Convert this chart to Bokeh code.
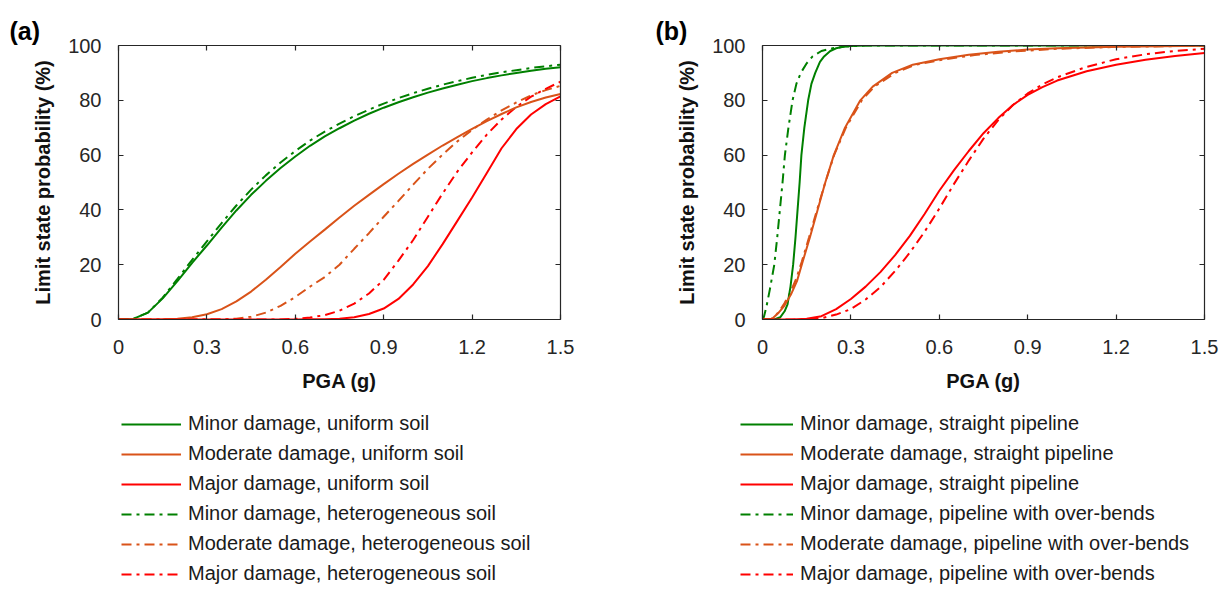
from bokeh.plotting import figure
from bokeh.models import LinearAxis, Legend, LegendItem, FixedTicker, Range1d
from bokeh.layouts import row, column
from bokeh.embed import file_html
from bokeh.resources import INLINE

# ---------------- data ----------------
x_ticks = [0, 0.3, 0.6, 0.9, 1.2, 1.5]
x_tick_labels = ["0", "0.3", "0.6", "0.9", "1.2", "1.5"]
y_ticks = [0, 20, 40, 60, 80, 100]
y_tick_labels = ["0", "20", "40", "60", "80", "100"]

# Panel (a): soil conditions
pga_a = [0, 0.05, 0.1, 0.15, 0.2, 0.25, 0.3, 0.35, 0.4, 0.45, 0.5, 0.55, 0.6, 0.65, 0.7, 0.75,
         0.8, 0.85, 0.9, 0.95, 1.0, 1.05, 1.1, 1.15, 1.2, 1.25, 1.3, 1.35, 1.4, 1.45, 1.5]
a_minor_uniform = [0, 0.2, 2.5, 7.7, 14, 20.7, 27, 33.5, 39.8, 45.5, 50.6, 55.3, 59.5, 63.4, 66.8, 69.8,
                   72.6, 75.1, 77.3, 79.3, 81.1, 82.8, 84.3, 85.7, 87, 88.1, 89.1, 90, 90.8, 91.5, 92.1]
a_moderate_uniform = [0, 0, 0, 0.1, 0.3, 0.8, 1.9, 3.8, 6.6, 10.2, 14.5, 19.2, 24, 28.5, 32.8, 37.2,
                      41.5, 45.5, 49.4, 53.2, 56.8, 60.2, 63.5, 66.6, 69.6, 72.4, 75, 77.4, 79.4, 81, 82.3]
a_major_uniform = [0, 0, 0, 0, 0, 0, 0, 0, 0, 0, 0, 0, 0, 0.05, 0.1, 0.3,
                   0.8, 2, 4, 7.5, 12.8, 19.5, 27.5, 36, 44.5, 53.5, 62.5, 69.5, 74.8, 78.6, 81.4]
a_minor_hetero = [0, 0.2, 2.5, 8, 14.8, 21.8, 28.5, 35.2, 41.6, 47.4, 52.6, 57.3, 61.5, 65.3, 68.6, 71.5,
                  74.2, 76.6, 78.8, 80.8, 82.6, 84.2, 85.7, 87, 88.2, 89.3, 90.2, 91, 91.8, 92.4, 93]
a_moderate_hetero = [0, 0, 0, 0, 0, 0, 0, 0, 0.3, 1, 2.5, 5, 8.2, 12, 15.5, 20,
                     25.8, 31.5, 37.5, 43.3, 49.2, 55, 60.2, 65, 69.2, 73, 76.3, 79.2, 81.8, 83.7, 85.3]
a_major_hetero = [0, 0, 0, 0, 0, 0, 0, 0, 0, 0, 0, 0, 0.25, 0.7, 1.6, 3.2,
                  5.8, 9.5, 14.5, 21.5, 29, 37.5, 46, 54, 61, 67.5, 73, 77.6, 81.3, 84.2, 86.8]

# Panel (b): pipeline geometry
b_minor_straight_x = [0, 0.04, 0.06, 0.075, 0.085, 0.095, 0.104, 0.112, 0.119, 0.126, 0.132, 0.142,
                      0.155, 0.166, 0.179, 0.195, 0.209, 0.23, 0.25, 0.28, 0.35, 1.5]
b_minor_straight = [0, 0, 0.8, 3, 5.5, 12, 20, 30, 40, 50, 60, 70,
                    80, 86, 90, 94, 96, 98, 99, 99.7, 100, 100]
b_moderate_straight_x = [0, 0.03, 0.04, 0.055, 0.074, 0.096, 0.117, 0.136, 0.161, 0.187, 0.213, 0.242,
                         0.28, 0.332, 0.374, 0.44, 0.51, 0.6, 0.7, 0.8, 0.9, 1.0, 1.2, 1.5]
b_moderate_straight = [0, 0, 1, 2.5, 5, 9, 14, 21, 30, 40, 50, 60,
                       70, 80, 85, 90, 93, 95, 96.6, 97.7, 98.5, 99, 99.5, 99.9]
b_major_straight_x = [0, 0.1, 0.15, 0.2, 0.25, 0.3, 0.35, 0.4, 0.45, 0.5, 0.55, 0.6, 0.65, 0.7,
                      0.75, 0.8, 0.85, 0.9, 0.95, 1.0, 1.1, 1.2, 1.3, 1.4, 1.5]
b_major_straight = [0, 0, 0.3, 1.2, 3.8, 7.5, 12, 17.3, 23.5, 30.5, 38.5, 47, 54.5, 61.5,
                    68, 73.5, 78.3, 82, 84.8, 87.2, 90.6, 93, 94.8, 96.2, 97.3]
b_minor_bends_x = [0, 0.005, 0.014, 0.025, 0.04, 0.05, 0.059, 0.068, 0.076, 0.088, 0.102, 0.115,
                   0.13, 0.15, 0.17, 0.2, 0.238, 0.28, 0.35, 1.5]
b_minor_bends = [0, 1, 5, 11, 20, 30, 40, 50, 60, 70, 80, 86,
                 90, 93.5, 96, 98, 99, 99.6, 100, 100]
b_moderate_bends_x = [0, 0.03, 0.045, 0.06, 0.075, 0.095, 0.115, 0.133, 0.158, 0.185, 0.213, 0.243,
                      0.283, 0.337, 0.38, 0.45, 0.52, 0.62, 0.72, 0.85, 1.0, 1.2, 1.5]
b_moderate_bends = [0, 0.3, 1.5, 3.5, 6, 10, 15, 21, 30, 40, 50, 60,
                    70, 80, 85, 90, 93, 95, 96.5, 97.8, 98.8, 99.5, 99.9]
b_major_bends_x = [0, 0.15, 0.2, 0.25, 0.3, 0.35, 0.4, 0.45, 0.5, 0.55, 0.6, 0.65, 0.7, 0.75,
                   0.8, 0.85, 0.9, 0.95, 1.0, 1.1, 1.2, 1.3, 1.4, 1.5]
b_major_bends = [0, 0, 0.5, 1.8, 3.8, 7.3, 11.8, 17.7, 24.4, 32, 40.5, 49.5, 58, 66,
                 72.8, 78.3, 82.5, 85.8, 88.4, 92.2, 95, 96.8, 98, 98.8]

labels_a = ["Minor damage, uniform soil", "Moderate damage, uniform soil", "Major damage, uniform soil",
            "Minor damage, heterogeneous soil", "Moderate damage, heterogeneous soil",
            "Major damage, heterogeneous soil"]
labels_b = ["Minor damage, straight pipeline", "Moderate damage, straight pipeline",
            "Major damage, straight pipeline", "Minor damage, pipeline with over-bends",
            "Moderate damage, pipeline with over-bends", "Major damage, pipeline with over-bends"]

GREEN, ORANGE, RED = "#008000", "#D95319", "#FF0000"
FONT = "Liberation Sans"
AX = "#262626"
DASHDOT = "10 5 3 5"
COLORS = [GREEN, ORANGE, RED, GREEN, ORANGE, RED]
DASHES = ["solid", "solid", "solid", DASHDOT, DASHDOT, DASHDOT]

PLOT_H = 394      # plot figure height
LEG_H = 196       # legend strip height
W_A, W_B = 613, 606


def style_axis(ax, labels=True, standoff=10):
    ax.major_tick_in = 5
    ax.major_tick_out = 0
    ax.minor_tick_line_color = None
    ax.axis_line_color = AX
    ax.axis_line_width = 1.2
    ax.major_tick_line_color = AX
    ax.major_tick_line_width = 1.2
    ax.major_label_text_font = FONT
    ax.major_label_text_color = AX
    ax.major_label_standoff = standoff
    ax.major_label_text_font_size = "20px" if labels else "0px"
    ax.axis_label_text_font = FONT
    ax.axis_label_text_font_size = "20px"
    ax.axis_label_text_font_style = "bold"
    ax.axis_label_text_color = "#111111"


def make_plot(tag, series, width, border_left, title_offset):
    p = figure(width=width, height=PLOT_H, x_range=Range1d(0, 1.5), y_range=Range1d(0, 100),
               output_backend="svg", toolbar_location=None,
               min_border_left=border_left, min_border_right=width - border_left - 442,
               min_border_top=45, min_border_bottom=PLOT_H - 45 - 274,
               background_fill_color="white", border_fill_color="white", outline_line_color=None)
    p.xgrid.visible = False
    p.ygrid.visible = False

    p.title.text = tag
    p.title.align = "left"
    p.title.offset = title_offset
    p.title.standoff = 2
    p.title.text_font = FONT
    p.title.text_font_size = "25px"
    p.title.text_font_style = "bold"
    p.title.text_color = "#000000"

    xt = FixedTicker(ticks=x_ticks)
    yt = FixedTicker(ticks=y_ticks)
    p.xaxis.ticker = xt
    p.yaxis.ticker = yt
    p.xaxis.major_label_overrides = {v: s for v, s in zip(x_ticks, x_tick_labels)}
    p.yaxis.major_label_overrides = {v: s for v, s in zip(y_ticks, y_tick_labels)}
    p.xaxis.axis_label = "PGA (g)"
    p.yaxis.axis_label = "Limit state probability (%)"
    style_axis(p.xaxis[0], standoff=20)
    style_axis(p.yaxis[0], standoff=17)
    p.xaxis.axis_label_standoff = 13
    p.yaxis.axis_label_standoff = 11

    # box: mirrored axes on top and right with inward ticks, no labels
    top = LinearAxis(ticker=xt)
    right = LinearAxis(ticker=yt)
    style_axis(top, labels=False, standoff=0)
    style_axis(right, labels=False, standoff=0)
    p.add_layout(top, "above")
    p.add_layout(right, "right")

    for i in [3, 4, 5, 0, 1, 2]:
        xs, ys = series[i]
        p.line(xs, ys, line_color=COLORS[i], line_width=2, line_dash=DASHES[i])
    return p


series_a = [(pga_a, a_minor_uniform), (pga_a, a_moderate_uniform), (pga_a, a_major_uniform),
            (pga_a, a_minor_hetero), (pga_a, a_moderate_hetero), (pga_a, a_major_hetero)]
series_b = [(b_minor_straight_x, b_minor_straight), (b_moderate_straight_x, b_moderate_straight),
            (b_major_straight_x, b_major_straight), (b_minor_bends_x, b_minor_bends),
            (b_moderate_bends_x, b_moderate_bends), (b_major_bends_x, b_major_bends)]

pa = make_plot("(a)", series_a, W_A, 118, -109)
pb = make_plot("(b)", series_b, W_B, 149, -107)

# Legend strip below both panels: its frame spans the whole strip.  The series
# are drawn again here only to feed the legends; the strip's ranges keep them
# out of view.
lf = figure(width=W_A + W_B, height=LEG_H, x_range=Range1d(10, 11), y_range=Range1d(1000, 1001),
            output_backend="svg", toolbar_location=None, x_axis_type=None, y_axis_type=None,
            min_border_left=0, min_border_right=0, min_border_top=0, min_border_bottom=0,
            outline_line_color=None, background_fill_color="white", border_fill_color="white")
lf.xgrid.visible = False
lf.ygrid.visible = False


def add_legend(series, labels, legend_x, glyph_w):
    items = []
    for i in range(6):
        xs, ys = series[i]
        r = lf.line(xs, ys, line_color=COLORS[i], line_width=2, line_dash=DASHES[i])
        items.append(LegendItem(label=labels[i], renderers=[r]))
    legend = Legend(items=items, location=(legend_x, 5), orientation="vertical",
                    glyph_width=glyph_w, glyph_height=20, label_height=20, label_standoff=7,
                    spacing=7, padding=0, margin=0, border_line_alpha=0, background_fill_alpha=0,
                    label_text_font=FONT, label_text_font_size="20px", label_text_color="#1a1a1a")
    lf.add_layout(legend)


add_legend(series_a, labels_a, 121, 60)
add_legend(series_b, labels_b, 740, 53)

layout = column(row(pa, pb, spacing=0), lf, spacing=0)
open("out.html", "w").write(file_html(layout, INLINE))
